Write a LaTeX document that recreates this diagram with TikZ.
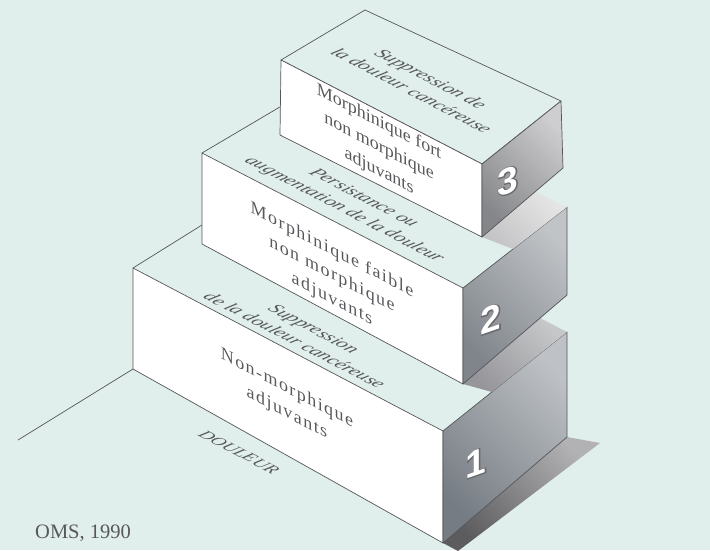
\documentclass[tikz,border=0pt]{standalone}
\usepackage{fontspec}
\setmainfont{Liberation Serif}
\newfontfamily\spacedfont[LetterSpace=8]{Liberation Serif}
\newfontfamily\numfont{Liberation Sans}
\definecolor{bg}{RGB}{224,239,236}
\definecolor{edgec}{RGB}{85,85,88}
\definecolor{txt}{RGB}{88,88,92}
\definecolor{sidea}{RGB}{118,124,131}
\definecolor{sideb}{RGB}{190,194,198}
\definecolor{sidec}{RGB}{128,133,139}
\definecolor{sided}{RGB}{192,196,199}
\definecolor{sidee}{RGB}{133,134,137}
\definecolor{sidef}{RGB}{206,206,208}
\definecolor{shaa}{RGB}{92,92,95}
\definecolor{shab}{RGB}{178,178,180}
\definecolor{shac}{RGB}{150,150,154}
\definecolor{shad}{RGB}{198,199,201}
\definecolor{shae}{RGB}{196,196,198}
\definecolor{shaf}{RGB}{230,230,230}
\newcommand{\outlined}[1]{%
  \rlap{\special{pdf:literal direct 2 Tr 2.0 w 0.42 0.42 0.44 RG}#1\special{pdf:literal direct 0 Tr}}#1}
\begin{document}
\begin{tikzpicture}[x=1pt,y=-1pt,
  edge/.style={draw=edgec,line width=0.7pt,line join=round},
  frontface/.style={edge,fill=white},
  fronttext/.style={text=txt,align=center,inner sep=0pt,transform shape,
    font=\fontsize{18}{24.5}\selectfont,yslant=-0.52},
  spacedtext/.style={fronttext,font=\spacedfont\fontsize{18}{24.5}\selectfont},
  toptext/.style={text=txt,align=center,inner sep=0pt,transform shape,
    font=\itshape\fontsize{17.5}{22.5}\selectfont,cm={1,-0.52,0.857,0.514,(0,0)}},
  digitstyle/.style={inner sep=0pt,transform shape,yslant=0.35,text=white,
    font=\numfont\bfseries\fontsize{37}{37}\selectfont}
]
\useasboundingbox (0,0) rectangle (710,550);
\fill[bg] (0,0) rectangle (710,550);
\clip (0,0) rectangle (710,550);

% floor
\coordinate (fl) at (18,440);
\coordinate (b1bl) at (133,369);
\draw[edge] (b1bl) -- (fl);

% shadow of block 1 on the floor
\shade[shading=axis,bottom color=shaa,top color=shab,shading angle=-45]
  (443,543) -- (458,551) -- (600,443) -- (567,437) -- cycle;

% block 1
\coordinate (b1tl) at (133,268);
\coordinate (b1tr) at (443,431);
\coordinate (b1br) at (443,543);
\coordinate (b1st) at (567,332);
\coordinate (b1sb) at (567,437);
\draw[frontface] (b1tl) -- (b1tr) -- (b1br) -- (b1bl) -- cycle;
\shadedraw[edge,shading=axis,bottom color=sidea,top color=sideb,shading angle=-45]
  (b1tr) -- (b1st) -- (b1sb) -- (b1br) -- cycle;
\draw[edge] (b1tl) -- (210,220);

% shadow of block 2 on block 1
\shade[shading=axis,bottom color=shac,top color=shad,shading angle=-45]
  (463,384) -- (492,392) -- (567,332) -- (540,318) -- cycle;

% block 2
\coordinate (b2tl) at (202,153);
\coordinate (b2bl) at (202,244);
\coordinate (b2tr) at (463,288);
\coordinate (b2br) at (463,384);
\coordinate (b2st) at (567,207);
\coordinate (b2sb) at (567,295);
\draw[frontface] (b2tl) -- (b2tr) -- (b2br) -- (b2bl) -- cycle;
\shadedraw[edge,shading=axis,bottom color=sidec,top color=sided,shading angle=-45]
  (b2tr) -- (b2st) -- (b2sb) -- (b2br) -- cycle;
\draw[edge] (b2tl) -- (290,101);

% shadow of block 3 on block 2
\shade[shading=axis,bottom color=shae,top color=shaf,shading angle=-45]
  (482,237) -- (513,249) -- (567,207) -- (535,191) -- cycle;

% block 3
\coordinate (b3tl) at (281,60);
\coordinate (b3bl) at (280,135);
\coordinate (b3tr) at (482,164);
\coordinate (b3br) at (482,237);
\coordinate (b3st) at (561,101);
\coordinate (b3sb) at (563,168);
\coordinate (b3bk) at (365,10);
\draw[edge,fill=bg] (b3tl) -- (b3bk) -- (b3st) -- (b3tr) -- cycle;
\draw[frontface] (b3tl) -- (b3tr) -- (b3br) -- (b3bl) -- cycle;
\shadedraw[edge,shading=axis,bottom color=sidee,top color=sidef,shading angle=-45]
  (b3tr) -- (b3st) -- (b3sb) -- (b3br) -- cycle;

% texts on the front faces
\begin{scope}[shift={(379,147)}]
  \node[fronttext] (f3) {Morphinique fort\\non morphique\\adjuvants};
\end{scope}
\begin{scope}[shift={(332,275)}]
  \node[spacedtext] (f2) {Morphinique faible\\non morphique\\adjuvants};
\end{scope}
\begin{scope}[shift={(287,401)}]
  \node[spacedtext] (f1) {Non-morphique\\adjuvants};
\end{scope}

% texts on the top faces
\begin{scope}[shift={(421.5,84.5)}]
  \node[toptext] (t3) {Suppression de\\la douleur cancéreuse};
\end{scope}
\begin{scope}[shift={(353.5,204)}]
  \node[toptext] (t2) {Persistance ou\\augmentation de la douleur};
\end{scope}
\begin{scope}[shift={(304.5,334.5)}]
  \node[toptext] (t1) {Suppression\\de la douleur cancéreuse};
\end{scope}
\begin{scope}[shift={(239,452)}]
  \node[toptext,font=\itshape\fontsize{16}{18}\selectfont] (dl) {DOULEUR};
\end{scope}

% step numbers
\begin{scope}[shift={(508,181)}]
  \node[digitstyle] (n3) {\outlined{3}};
\end{scope}
\begin{scope}[shift={(491,319)}]
  \node[digitstyle] (n2) {\outlined{2}};
\end{scope}
\begin{scope}[shift={(476,463)}]
  \node[digitstyle] (n1) {\outlined{1}};
\end{scope}

\node[anchor=base west,inner sep=0pt,text=txt,font=\fontsize{20.5}{21}\selectfont]
  (src) at (35,538) {OMS, 1990};
\end{tikzpicture}
\end{document}
